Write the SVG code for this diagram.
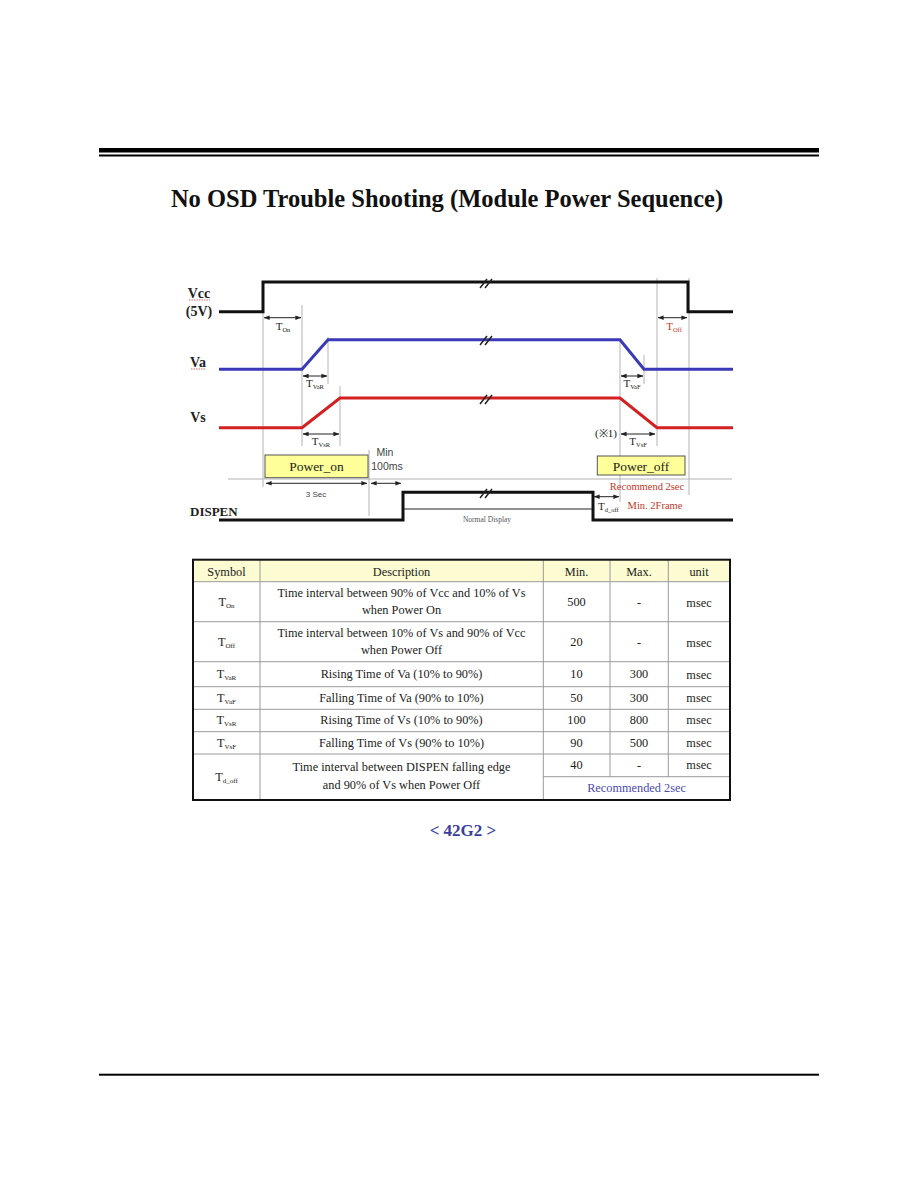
<svg xmlns="http://www.w3.org/2000/svg" width="918" height="1188" viewBox="0 0 918 1188">
<defs>
<style>
.t{font-family:"Liberation Serif",serif;fill:#222}
.b{font-weight:bold}
.s{font-family:"Liberation Sans",sans-serif;fill:#444}
.guide{stroke:#b4b4b4;stroke-width:1;fill:none}
.dim{stroke:#222;stroke-width:1;fill:none;marker-start:url(#ah);marker-end:url(#ah)}
.sig{fill:none;stroke-width:3;stroke-linejoin:miter}
.grid{stroke:#9a9a9a;stroke-width:1;fill:none}
.red{fill:#c0392b}
.blue{fill:#4a4ab0}
.cap{fill:#3a3f9f}
.grey{fill:#555}
</style>
<marker id="ah" viewBox="0 0 8 8" refX="7.5" refY="4" markerWidth="6" markerHeight="6" orient="auto-start-reverse" markerUnits="userSpaceOnUse"><path d="M0,1 L8,4 L0,7 z" fill="#222"/></marker>
</defs>
<rect width="918" height="1188" fill="#fff"/>
<g id="header">
<rect x="99" y="148" width="720" height="4.5" fill="#000"/>
<rect x="99" y="154.5" width="720" height="2" fill="#000"/>
<text class="t b" x="447" y="207" font-size="24.5" text-anchor="middle" style="fill:#111">No OSD Trouble Shooting (Module Power Sequence)</text>
</g>
<g id="guides">
<line class="guide" x1="263" y1="305" x2="263" y2="487"/>
<line class="guide" x1="302" y1="305" x2="302" y2="446"/>
<line class="guide" x1="328" y1="337" x2="328" y2="384"/>
<line class="guide" x1="340" y1="386" x2="340" y2="446"/>
<line class="guide" x1="369" y1="450" x2="369" y2="516"/>
<line class="guide" x1="620" y1="340" x2="620" y2="502"/>
<line class="guide" x1="644" y1="355" x2="644" y2="384"/>
<line class="guide" x1="657" y1="278" x2="657" y2="446"/>
<line class="guide" x1="689" y1="278" x2="689" y2="495"/>
<line class="guide" x1="228" y1="479" x2="732" y2="479"/>
</g>
<g id="signals">
<g id="vcc">
<polyline class="sig" stroke="#111" points="219,311.7 263,311.7 263,282 688,282 688,311.7 733,311.7"/>
<text class="t b" x="199" y="298" font-size="14" text-anchor="middle">Vcc</text>
<line x1="189" y1="300" x2="210" y2="300" stroke="#c44" stroke-width="0.8" stroke-dasharray="1.5,1"/>
<text class="t b" x="199" y="316" font-size="14" text-anchor="middle">(5V)</text>
</g>
<g id="va">
<polyline class="sig" stroke="#3a3ab8" points="219,369.3 302,369.3 328,339.7 620,339.7 644,369.3 733,369.3"/>
<text class="t b" x="198" y="367" font-size="14" text-anchor="middle">Va</text>
<line x1="191" y1="369" x2="205" y2="369" stroke="#c44" stroke-width="0.8" stroke-dasharray="1.5,1"/>
</g>
<g id="vs">
<polyline class="sig" stroke="#d42020" points="219,427.7 302,427.7 340,398 620,398 657,427.7 733,427.7"/>
<text class="t b" x="198" y="422" font-size="14" text-anchor="middle">Vs</text>
</g>
<g id="dispen">
<polyline class="sig" stroke="#111" points="219,520 403,520 403,492.3 593,492.3 593,520 733,520"/>
<line x1="404" y1="509" x2="592" y2="509" stroke="#222" stroke-width="1"/>
<text class="t b" x="190" y="516" font-size="13">DISPEN</text>
<text class="t grey" x="487" y="522" font-size="7.5" text-anchor="middle">Normal Display</text>
</g>
<g id="breaks" stroke="#222" stroke-width="1.5">
<line x1="480" y1="288" x2="487" y2="279"/><line x1="485" y1="288" x2="492" y2="279"/>
<line x1="480" y1="345" x2="487" y2="336"/><line x1="485" y1="345" x2="492" y2="336"/>
<line x1="480" y1="404" x2="487" y2="395"/><line x1="485" y1="404" x2="492" y2="395"/>
<line x1="480" y1="498" x2="487" y2="489"/><line x1="485" y1="498" x2="492" y2="489"/>
</g>
</g>
<g id="dimensions">
<line class="dim" x1="264" y1="317.7" x2="301" y2="317.7"/>
<text class="t" x="283" y="330" font-size="11" text-anchor="middle">T<tspan font-size="6.5" dy="2">On</tspan></text>
<line class="dim" x1="303" y1="376" x2="327" y2="376"/>
<text class="t" x="315" y="387" font-size="11" text-anchor="middle">T<tspan font-size="6.5" dy="2">VaR</tspan></text>
<line class="dim" x1="303" y1="434" x2="339" y2="434"/>
<text class="t" x="321" y="445" font-size="11" text-anchor="middle">T<tspan font-size="6.5" dy="2">VsR</tspan></text>
<line class="dim" x1="658" y1="317.7" x2="687" y2="317.7"/>
<text class="t red" x="674" y="330" font-size="11" text-anchor="middle">T<tspan font-size="6.5" dy="2">Off</tspan></text>
<line class="dim" x1="621" y1="376" x2="643" y2="376"/>
<text class="t" x="632" y="387" font-size="11" text-anchor="middle">T<tspan font-size="6.5" dy="2">VaF</tspan></text>
<line class="dim" x1="621" y1="434" x2="655" y2="434"/>
<text class="t" x="638" y="445" font-size="11" text-anchor="middle">T<tspan font-size="6.5" dy="2">VsF</tspan></text>
<text class="t" x="606" y="437" font-size="11" text-anchor="middle">(※1)</text>
<line class="dim" x1="266" y1="483.3" x2="367" y2="483.3"/>
<text class="s" x="316" y="497" font-size="8" text-anchor="middle">3 Sec</text>
<line class="dim" x1="371" y1="483.3" x2="401" y2="483.3"/>
<text class="s" x="385" y="456" font-size="10.5" text-anchor="middle">Min</text>
<text class="s" x="387" y="470" font-size="10.5" text-anchor="middle">100ms</text>
<line class="dim" x1="594" y1="496.7" x2="619" y2="496.7"/>
<text class="t" x="598" y="510" font-size="11">T<tspan font-size="6.5" dy="2">d_off</tspan></text>
<text class="t red" x="647" y="490" font-size="10.5" text-anchor="middle">Recommend 2sec</text>
<text class="t red" x="655" y="509" font-size="10.5" text-anchor="middle">Min. 2Frame</text>
</g>
<g id="power_on">
<rect x="265" y="455" width="103" height="22.7" fill="#ffff99" stroke="#555" stroke-width="1"/>
<text class="t" x="316.5" y="471" font-size="13.5" text-anchor="middle">Power_on</text>
</g>
<g id="power_off">
<rect x="597.3" y="456" width="87.7" height="19" fill="#ffff99" stroke="#555" stroke-width="1"/>
<text class="t" x="641" y="470.5" font-size="13.5" text-anchor="middle">Power_off</text>
</g>
<g id="table">
<rect x="193" y="559.7" width="537" height="22" fill="#fdfbd2"/>
<g class="grid">
<line x1="193" y1="581.7" x2="730" y2="581.7"/>
<line x1="193" y1="621.7" x2="730" y2="621.7"/>
<line x1="193" y1="661.7" x2="730" y2="661.7"/>
<line x1="193" y1="686.7" x2="730" y2="686.7"/>
<line x1="193" y1="709.3" x2="730" y2="709.3"/>
<line x1="193" y1="731.7" x2="730" y2="731.7"/>
<line x1="193" y1="754" x2="730" y2="754"/>
<line x1="543.3" y1="776.7" x2="730" y2="776.7"/>
<line x1="260" y1="559.7" x2="260" y2="800"/>
<line x1="543.3" y1="559.7" x2="543.3" y2="800"/>
<line x1="610" y1="559.7" x2="610" y2="776.7"/>
<line x1="668.3" y1="559.7" x2="668.3" y2="776.7"/>
</g>
<rect x="193" y="559.7" width="537" height="240.3" fill="none" stroke="#111" stroke-width="2"/>
<g class="t" font-size="12.3" text-anchor="middle">
<text x="226.5" y="576">Symbol</text>
<text x="401.5" y="576">Description</text>
<text x="576.5" y="576">Min.</text>
<text x="639" y="576">Max.</text>
<text x="699" y="576">unit</text>

<text x="226.5" y="606">T<tspan font-size="7" dy="2">On</tspan></text>
<text x="401.5" y="597">Time interval between 90% of Vcc and 10% of Vs</text>
<text x="401.5" y="614">when Power On</text>
<text x="576.5" y="606">500</text><text x="639" y="606">-</text><text x="699" y="607">msec</text>

<text x="226.5" y="646">T<tspan font-size="7" dy="2">Off</tspan></text>
<text x="401.5" y="637">Time interval between 10% of Vs and 90% of Vcc</text>
<text x="401.5" y="654">when Power Off</text>
<text x="576.5" y="646">20</text><text x="639" y="646">-</text><text x="699" y="647">msec</text>

<text x="226.5" y="678">T<tspan font-size="7" dy="2">VaR</tspan></text>
<text x="401.5" y="678">Rising Time of Va (10% to 90%)</text>
<text x="576.5" y="678">10</text><text x="639" y="678">300</text><text x="699" y="679">msec</text>

<text x="226.5" y="702">T<tspan font-size="7" dy="2">VaF</tspan></text>
<text x="401.5" y="702">Falling Time of Va (90% to 10%)</text>
<text x="576.5" y="702">50</text><text x="639" y="702">300</text><text x="699" y="702">msec</text>

<text x="226.5" y="724">T<tspan font-size="7" dy="2">VsR</tspan></text>
<text x="401.5" y="724">Rising Time of Vs (10% to 90%)</text>
<text x="576.5" y="724">100</text><text x="639" y="724">800</text><text x="699" y="724">msec</text>

<text x="226.5" y="747">T<tspan font-size="7" dy="2">VsF</tspan></text>
<text x="401.5" y="747">Falling Time of Vs (90% to 10%)</text>
<text x="576.5" y="747">90</text><text x="639" y="747">500</text><text x="699" y="747">msec</text>

<text x="226.5" y="781">T<tspan font-size="7" dy="2">d_off</tspan></text>
<text x="401.5" y="771">Time interval between DISPEN falling edge</text>
<text x="401.5" y="789">and 90% of Vs when Power Off</text>
<text x="576.5" y="769">40</text><text x="639" y="769">-</text><text x="699" y="769">msec</text>
<text class="blue" x="636.5" y="792">Recommended 2sec</text>
</g>
</g>
<g id="caption">
<text class="t b cap" x="463" y="836" font-size="17" text-anchor="middle">&lt; 42G2 &gt;</text>
</g>
<g id="footer">
<rect x="99" y="1073.7" width="720" height="2" fill="#000"/>
</g>
</svg>
